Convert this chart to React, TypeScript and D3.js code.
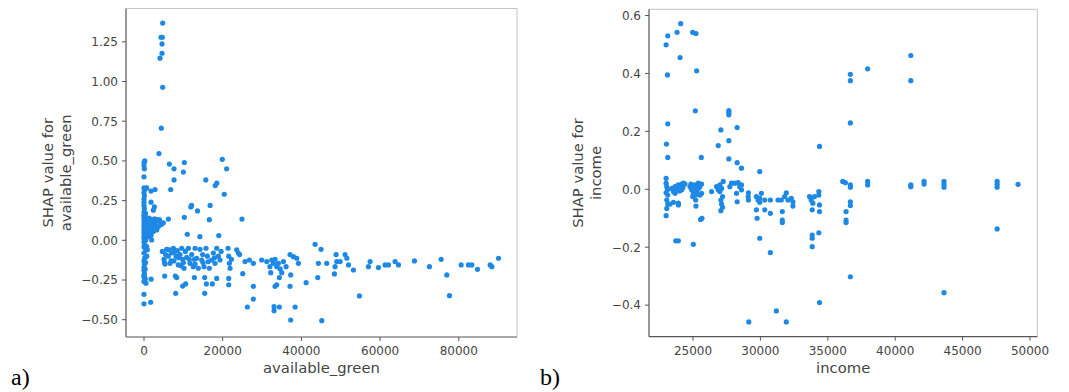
import * as d3 from 'd3'

// SHAP values for available_green (x = feature value, y = shap)
const greenPoints: [number, number][] = [
  // column at x ~ 0
  [0, 0.49], [200, 0.5], [0, 0.47], [100, 0.45], [0, 0.4], [0, 0.33], [200, 0.32], [0, 0.3], [100, 0.28], [0, 0.26],
  [0, 0.24], [0, 0.22], [100, 0.2], [0, 0.18], [0, 0.16], [0, 0.15], [100, 0.14], [0, 0.13], [200, 0.12], [0, 0.11],
  [100, 0.1], [0, 0.09], [300, 0.08], [0, 0.07], [100, 0.06], [0, 0.05], [200, 0.04], [0, 0.03], [100, 0.02], [0, 0.01],
  [0, -0.01], [200, -0.03], [0, -0.04], [300, -0.05], [500, -0.06], [0, -0.13], [100, -0.15], [0, -0.17], [300, -0.18],
  [0, -0.19], [100, -0.21], [0, -0.23], [200, -0.25], [0, -0.26], [500, -0.27], [0, -0.34], [0, -0.4],
  [400, 0.17], [300, 0.11], [500, 0.09], [400, 0.03], [600, 0.06], [300, 0.15], [500, 0.13], [400, 0.0],
  [0, -0.08], [200, -0.11], [400, -0.14], [0, -0.22], [300, -0.24], [600, 0.02], [700, 0.12], [800, 0.08],
  // cluster 0 - 5000
  [680, 0.33], [1780, 0.31], [2800, 0.32], [1780, 0.24], [2370, 0.19], [2630, 0.21], [1100, 0.13], [1950, 0.13],
  [3220, 0.13], [4070, 0.12], [4920, 0.11], [1100, 0.086], [1950, 0.076], [2800, 0.097], [3640, 0.086], [1525, 0.044],
  [2370, 0.055], [3220, 0.065], [1100, 0.023], [1950, 0.002], [680, -0.04], [850, -0.06], [2500, 0.11], [3000, 0.08],
  [1400, 0.1], [900, 0.05], [4400, 0.1], [1800, -0.245], [1700, -0.39], [700, -0.1],
  [1300, 0.14], [2200, 0.12], [2700, 0.135], [3500, 0.12], [1600, 0.07], [2100, 0.09], [2600, 0.07], [1200, 0.06],
  [1800, 0.03], [1000, 0.1], [3900, 0.13],
  // tall spike
  [4750, 1.368], [4320, 1.279], [4660, 1.279], [4580, 1.237], [4580, 1.178], [4070, 1.147], [4750, 0.964],
  [4400, 0.706], [3800, 0.546],
  // upper scatter 5000 - 26000
  [6440, 0.48], [7630, 0.45], [6780, 0.32], [10250, 0.49], [10000, 0.43], [7630, 0.38], [19900, 0.51], [21000, 0.45],
  [20400, 0.29], [15700, 0.38], [18100, 0.345], [18500, 0.36], [16800, 0.22], [11900, 0.21], [12100, 0.22],
  [13600, 0.185], [16600, 0.13], [10250, 0.145], [6190, 0.134], [24900, 0.134], [11000, 0.038], [14200, 0.023],
  [19000, 0.03],
  // band below zero 5000 - 28000
  [4660, -0.07], [5085, -0.12], [5340, -0.15], [5760, -0.057], [6190, -0.1], [6610, -0.145], [7030, -0.08],
  [7460, -0.05], [7630, -0.13], [8140, -0.1], [8470, -0.065], [8730, -0.155], [9150, -0.09], [9580, -0.05],
  [9830, -0.12], [10170, -0.176], [10510, -0.07], [10850, -0.107], [11270, -0.05], [11700, -0.145], [12120, -0.09],
  [12540, -0.166], [12970, -0.05], [13390, -0.113], [13810, -0.176], [14240, -0.057], [14660, -0.124],
  [15250, -0.166], [15760, -0.05], [16100, -0.1], [16610, -0.176], [17200, -0.124], [17630, -0.08], [18050, -0.145],
  [18470, -0.05], [18900, -0.1], [19320, -0.124], [21360, -0.05], [21530, -0.1], [21700, -0.145], [21870, -0.176],
  [23560, -0.06], [23980, -0.08], [25680, -0.134], [26780, -0.124], [27800, -0.145],
  [5500, -0.09], [6900, -0.13], [8800, -0.11], [10000, -0.14], [12800, -0.12], [14900, -0.09], [16300, -0.135],
  [19600, -0.07], [22200, -0.12], [24300, -0.09], [5200, -0.14], [6400, -0.06], [7800, -0.07], [9400, -0.16],
  [11500, -0.12], [13000, -0.15], [15000, -0.14], [17900, -0.11],
  // lower scatter 5000 - 28000
  [5250, -0.225], [7970, -0.225], [8310, -0.235], [8050, -0.334], [9830, -0.288], [10590, -0.275], [12800, -0.235],
  [15420, -0.235], [15420, -0.334], [15850, -0.275], [17370, -0.275], [18470, -0.24], [21530, -0.24],
  [21530, -0.28], [25090, -0.21], [27800, -0.29], [27800, -0.37], [26270, -0.42],
  // 28000 - 46000
  [29900, -0.124], [31200, -0.134], [32000, -0.166], [32460, -0.124], [32880, -0.145], [33300, -0.12],
  [33730, -0.166], [34150, -0.145], [34580, -0.18], [35430, -0.134], [36100, -0.166], [37110, -0.09],
  [37970, -0.103], [38820, -0.113], [39240, -0.145], [32200, -0.204], [35000, -0.204], [34400, -0.235],
  [37280, -0.218], [37110, -0.29], [33300, -0.29], [33730, -0.28], [33050, -0.418], [33050, -0.443],
  [34400, -0.42], [38400, -0.42], [37280, -0.502], [41200, -0.267], [44150, -0.235], [45170, -0.506],
  // 43000 - 91000
  [43480, -0.025], [45000, -0.057], [44320, -0.145], [46440, -0.145], [48560, -0.166], [48820, -0.09],
  [48990, -0.134], [48390, -0.212], [49840, -0.134], [51100, -0.09], [51550, -0.113], [51970, -0.155],
  [53220, -0.187], [54750, -0.35], [57040, -0.166], [57460, -0.134], [59580, -0.172], [61270, -0.155],
  [62120, -0.155], [63810, -0.134], [64670, -0.155], [68730, -0.13], [72540, -0.166], [75510, -0.12],
  [76950, -0.218], [77630, -0.349], [80600, -0.155], [82460, -0.155], [83310, -0.155], [84750, -0.183],
  [87970, -0.155], [88390, -0.166], [90090, -0.113],
]

// SHAP values for income
const incomePoints: [number, number][] = [
  [23005, 0.499], [23128, 0.53], [23103, 0.395], [23128, 0.226], [23030, 0.156], [23128, 0.11], [23005, 0.038],
  [23005, 0.021], [23055, 0.009], [23103, -0.002], [23005, -0.012], [23128, -0.02], [23055, -0.037], [23128, -0.051],
  [23055, -0.066], [23005, -0.091],
  [23424, 0.003], [23547, -0.008], [23670, 0.009], [23793, -0.002], [23916, 0.015], [24040, 0.009], [24163, 0.018],
  [24286, 0.021], [24409, 0.018], [23818, 0.542], [24089, 0.572], [24040, 0.455], [23547, -0.045], [23916, -0.048],
  [23916, -0.054], [23720, -0.178], [23916, -0.178], [23300, -0.051], [23670, -0.014], [24163, -0.002],
  [23600, 0.005], [23850, 0.012], [24000, -0.006], [24250, 0.006],
  [24975, 0.542], [25222, 0.538], [25271, 0.409], [25172, 0.271], [25616, 0.11], [25025, -0.19], [25222, -0.058],
  [25566, -0.104], [25665, -0.1], [24778, 0.009], [24901, -0.002], [25025, -0.014], [25148, 0.015], [25271, -0.008],
  [25394, 0.003], [25517, -0.02], [25640, 0.018], [24975, -0.025], [25197, -0.037], [25640, -0.014], [25394, 0.021],
  [25100, 0.005], [25300, 0.012], [25500, 0.008], [24850, 0.018], [25200, -0.02],
  [26380, -0.008],
  [26872, 0.151], [27069, 0.205], [26750, 0.009], [26872, -0.002], [26995, -0.008], [27118, 0.003], [27241, 0.027],
  [27192, -0.025], [27069, -0.037], [27118, -0.051], [27192, -0.062], [27069, -0.074], [26995, 0.015],
  [27660, 0.272], [27660, 0.265], [27660, 0.257], [27660, 0.168], [27660, 0.105], [27857, 0.021], [27734, 0.009],
  [28276, 0.213], [28276, 0.092], [28596, 0.073], [28103, 0.021], [28350, 0.023], [28473, 0.009], [28596, 0.015],
  [28226, -0.014], [28276, -0.043], [28596, -0.002],
  [29113, -0.012], [29113, -0.037], [29138, -0.458], [29089, -0.025],
  [29951, 0.061], [29704, -0.025], [29828, -0.037], [29951, -0.031], [30074, -0.014], [29704, -0.071],
  [29754, -0.1], [29951, -0.169], [30320, -0.071], [30739, -0.083], [30739, -0.219], [31182, -0.42],
  [29951, -0.045], [30320, -0.037], [30739, -0.037],
  [31305, -0.037], [31551, -0.037], [31798, -0.025], [31921, -0.012], [32044, -0.037], [32290, -0.031],
  [32414, -0.043], [31625, -0.077], [31625, -0.106], [31625, -0.115], [31921, -0.458], [32414, -0.058],
  [33645, -0.025], [33768, -0.037], [33891, -0.048], [34015, -0.025], [33842, -0.071], [33842, -0.158],
  [33842, -0.169], [33842, -0.198], [34384, 0.148], [34335, -0.008], [34335, -0.02], [34384, -0.054],
  [34384, -0.077], [34335, -0.15], [34384, -0.391],
  [36108, 0.027], [36305, 0.023], [36354, -0.077], [36354, -0.106], [36354, -0.115],
  [36674, 0.397], [36674, 0.375], [36674, 0.229], [36674, 0.015], [36674, 0.007], [36674, -0.043], [36674, -0.056],
  [36674, -0.302],
  [37955, 0.416], [37955, 0.027], [37955, 0.015],
  [41157, 0.462], [41157, 0.375], [41157, 0.015], [41157, 0.009],
  [42142, 0.027], [42142, 0.018],
  [43620, 0.027], [43620, 0.017], [43620, 0.007], [43620, -0.357],
  [47561, 0.027], [47561, 0.017], [47561, 0.007], [47561, -0.137],
  [49113, 0.017],
]

const greenXTicks = [0, 20000, 40000, 60000, 80000]
const greenYTicks = [-0.5, -0.25, 0, 0.25, 0.5, 0.75, 1.0, 1.25]
const incomeXTicks = [25000, 30000, 35000, 40000, 45000, 50000]
const incomeYTicks = [-0.4, -0.2, 0, 0.2, 0.4, 0.6]

const DOT = '#1E88E5'
const AXIS = '#555'
const TEXT = '#444'
const FONT = 'DejaVu Sans, sans-serif'

type PanelProps = {
  points: [number, number][]
  box: { left: number, right: number, top: number, bottom: number }
  xDomain: [number, number]
  yDomain: [number, number]
  xTicks: number[]
  yTicks: number[]
  yDigits: number
  xLabel: string
  yLabel: [string, string]
  yLabelX: [number, number]
  tag: string
  tagX: number
}

const fmt = (v: number, digits: number) => v.toFixed(digits).replace('-', '\u2212')

const Panel = (p: PanelProps) => {
  const { box } = p
  const x = d3.scaleLinear().domain(p.xDomain).range([box.left, box.right])
  const y = d3.scaleLinear().domain(p.yDomain).range([box.bottom, box.top])
  const midY = (box.top + box.bottom) / 2
  const midX = (box.left + box.right) / 2

  return (
    <g>
      {/* light top/right frame */}
      <line x1={box.left} x2={box.right} y1={box.top} y2={box.top} stroke="#c4c4c4" strokeWidth={1} />
      <line x1={box.right} x2={box.right} y1={box.top} y2={box.bottom} stroke="#c4c4c4" strokeWidth={1} />

      {p.points.map((d, i) => (
        <circle key={i} cx={x(d[0])} cy={y(d[1])} r={2.6} fill={DOT} />
      ))}

      <line x1={box.left} x2={box.left} y1={box.top} y2={box.bottom} stroke={AXIS} strokeWidth={1.2} />
      <line x1={box.left} x2={box.right} y1={box.bottom} y2={box.bottom} stroke={AXIS} strokeWidth={1.2} />

      {p.yTicks.map(t => (
        <g key={`y${t}`}>
          <line x1={box.left - 4} x2={box.left} y1={y(t)} y2={y(t)} stroke={AXIS} strokeWidth={1} />
          <text x={box.left - 8} y={y(t)} dy="0.36em" textAnchor="end" fontSize={12} fill={TEXT} fontFamily={FONT}>
            {fmt(t, p.yDigits)}
          </text>
        </g>
      ))}

      {p.xTicks.map(t => (
        <g key={`x${t}`}>
          <line x1={x(t)} x2={x(t)} y1={box.bottom} y2={box.bottom + 4} stroke={AXIS} strokeWidth={1} />
          <text x={x(t)} y={355} textAnchor="middle" fontSize={12} fill={TEXT} fontFamily={FONT}>
            {t}
          </text>
        </g>
      ))}

      <text x={midX} y={372.5} textAnchor="middle" fontSize={14.8} fill={TEXT} fontFamily={FONT}>{p.xLabel}</text>

      {p.yLabel.map((s, i) => (
        <text key={s} transform={`translate(${p.yLabelX[i]},${midY}) rotate(-90)`} textAnchor="middle"
          fontSize={14.8} fill={TEXT} fontFamily={FONT}>{s}</text>
      ))}

      <text x={p.tagX} y={385} fontSize={24} fill="#000" fontFamily="Liberation Serif, Times New Roman, serif">{p.tag}</text>
    </g>
  )
}

const App = () => {
  return (
    <svg width={1069} height={392} style={{ position: 'absolute', left: 0, top: 0, background: '#fff' }}>
      <Panel
        points={greenPoints}
        box={{ left: 126, right: 517, top: 8.5, bottom: 337 }}
        xDomain={[-4575, 94790]}
        yDomain={[-0.609, 1.46]}
        xTicks={greenXTicks}
        yTicks={greenYTicks}
        yDigits={2}
        xLabel="available_green"
        yLabel={['SHAP value for', 'available_green']}
        yLabelX={[53, 70.5]}
        tag="a)"
        tagX={11}
      />
      <Panel
        points={incomePoints}
        box={{ left: 649, right: 1037.3, top: 9.3, bottom: 336.7 }}
        xDomain={[21736, 50541]}
        yDomain={[-0.509, 0.6215]}
        xTicks={incomeXTicks}
        yTicks={incomeYTicks}
        yDigits={1}
        xLabel="income"
        yLabel={['SHAP value for', 'income']}
        yLabelX={[583, 601]}
        tag="b)"
        tagX={540}
      />
    </svg>
  )
}

export default App
